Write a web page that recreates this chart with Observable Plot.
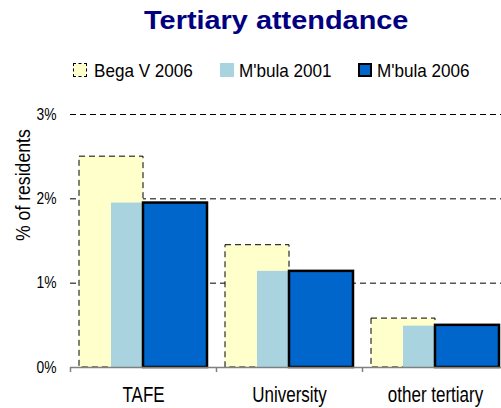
<!DOCTYPE html>
<html>
<head>
<meta charset="utf-8">
<script src="https://cdn.jsdelivr.net/npm/d3@7"></script>
<script src="https://cdn.jsdelivr.net/npm/@observablehq/plot@0.6"></script>
<style>
  html, body { margin: 0; padding: 0; background: #fff; }
  body { font-family: "Liberation Sans", Arial, sans-serif; }
  #wrap { position: relative; width: 501px; height: 408px; overflow: hidden; }
  #title { position: absolute; top: 7px; left: 0; width: 552px; text-align: center; font-size: 26.5px; line-height: 27px; font-weight: bold; color: #000080; white-space: nowrap; }
  #title span { display: inline-block; transform: scaleX(1.09); transform-origin: center; }
  .lg-sw { position: absolute; top: 63px; width: 14px; height: 14px; box-sizing: border-box; }
  .lg-tx { position: absolute; top: 60.6px; font-size: 19px; line-height: 19px; color: #000; white-space: nowrap; transform: scaleX(0.9); transform-origin: left center; }
  #chart { position: absolute; top: 90px; left: 0; }
</style>
</head>
<body>
<div id="wrap">
  <div id="title"><span></span></div>
  <div id="legend"></div>
  <div id="chart"></div>
</div>
<script>
const title = "Tertiary attendance";
const yLabel = "% of residents";
const categories = ["TAFE", "University", "other tertiary"];
const seriesNames = ["Bega V 2006", "M'bula 2001", "M'bula 2006"];
const begaV2006 = [2.50, 1.45, 0.58];
const mbula2001 = [1.95, 1.14, 0.49];
const mbula2006 = [1.95, 1.14, 0.50];
const yTicks = [0, 1, 2, 3];
const gridTicks = [1, 2, 3];

const colors = ["#ffffcc", "#a9d3df", "#0066cc"];

document.querySelector("#title span").textContent = title;

// legend
const legend = document.getElementById("legend");
const swLeft = [73, 220, 358];
const txLeft = [94, 239, 377];
seriesNames.forEach((name, i) => {
  const sw = document.createElement("div");
  sw.className = "lg-sw";
  sw.style.left = swLeft[i] + "px";
  sw.style.background = colors[i];
  if (i === 0) sw.style.border = "1px dashed #000";
  if (i === 2) sw.style.border = "2px solid #000";
  legend.appendChild(sw);
  const tx = document.createElement("div");
  tx.className = "lg-tx";
  tx.style.left = txLeft[i] + "px";
  tx.textContent = name;
  legend.appendChild(tx);
});

const mk = (vals) => categories.map((c, i) => ({cat: c, value: vals[i]}));
const dBega = mk(begaV2006);
const d01 = mk(mbula2001);
const d06 = mk(mbula2006);

const chart = Plot.plot({
  width: 501,
  height: 318,
  marginLeft: 70,
  marginRight: -7,
  marginTop: 24,
  marginBottom: 41,
  style: {fontFamily: "Liberation Sans, Arial, sans-serif", color: "#000", background: "transparent", overflow: "visible"},
  x: {type: "band", domain: categories, padding: 0, axis: null},
  y: {domain: [0, 3], axis: null},
  marks: [
    Plot.ruleY(gridTicks, {stroke: "#000", strokeWidth: 1, strokeDasharray: "6,4"}),
    Plot.barY(dBega, {x: "cat", y: "value", fill: colors[0], stroke: "#000", strokeWidth: 1, strokeDasharray: "6,4", insetLeft: 9, insetRight: 73}),
    Plot.barY(d01, {x: "cat", y: "value", fill: colors[1], insetLeft: 41, insetRight: 41}),
    Plot.barY(d06, {x: "cat", y: "value", fill: colors[2], stroke: "#000", strokeWidth: 2.5, insetLeft: 73, insetRight: 9}),
    Plot.ruleY([0], {stroke: "#808080", strokeWidth: 1.5}),
    Plot.ruleX(categories, {x: d => d, dx: -73, y1: 0, y2: -0.06, stroke: "#808080", strokeWidth: 1.5}),
    Plot.axisY(yTicks, {tickSize: 0, tickPadding: 14, fontSize: 16.3, tickFormat: d => d + "%", label: null}),
    Plot.axisX(categories, {tickSize: 0, tickPadding: 19, fontSize: 21.5, label: null}),
    Plot.text([yLabel], {frameAnchor: "left", rotate: -90, dx: -47, fontSize: 20.5, fill: "#000"})
  ]
});
document.getElementById("chart").appendChild(chart);

// narrow the glyphs to match the condensed look of the reference
function condense(selector, factor) {
  chart.querySelectorAll(selector).forEach(t => {
    const len = t.getComputedTextLength();
    if (len > 0) {
      t.setAttribute("textLength", (len * factor).toFixed(2));
      t.setAttribute("lengthAdjust", "spacingAndGlyphs");
    }
  });
}
condense('[aria-label="y-axis tick label"] text', 0.85);
condense('[aria-label="x-axis tick label"] text', 0.79);
condense('[aria-label="text"] text', 0.86);
</script>
</body>
</html>
